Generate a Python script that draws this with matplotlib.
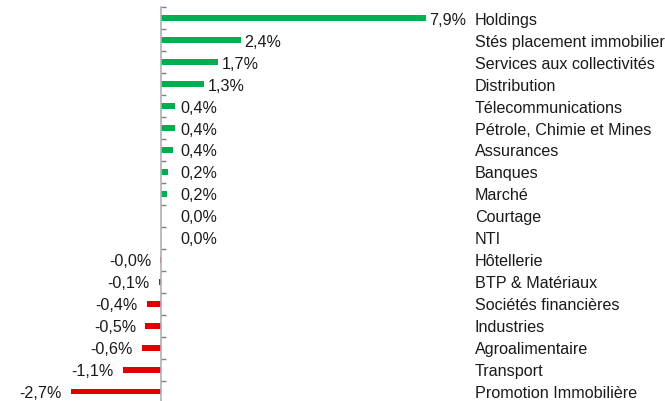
import matplotlib
matplotlib.use('Agg')
import matplotlib.pyplot as plt
import matplotlib.transforms as mtransforms

# sectors, top to bottom
sectors = ['Holdings', 'Stés placement immobilier', 'Services aux collectivités',
           'Distribution', 'Télecommunications', 'Pétrole, Chimie et Mines',
           'Assurances', 'Banques', 'Marché', 'Courtage', 'NTI', 'Hôtellerie',
           'BTP & Matériaux', 'Sociétés financières', 'Industries',
           'Agroalimentaire', 'Transport', 'Promotion Immobilière']
# performance in %
perf = [7.9, 2.4, 1.72, 1.3, 0.43, 0.43, 0.38, 0.22, 0.18, 0.0, 0.0,
        -0.02, -0.06, -0.42, -0.46, -0.56, -1.13, -2.67]

plt.rcParams['font.family'] = ['Liberation Sans', 'DejaVu Sans']
plt.rcParams['font.size'] = 11.6

fig = plt.figure(figsize=(6.65, 4.01), dpi=100)
ax = fig.add_axes([0, -0.004, 1, 0.986])

pos = list(range(len(sectors)))
colors = ['#00b050' if v >= 0 else '#e00000' for v in perf]
ax.barh(pos, perf, height=0.26, color=colors)

ax.set_xlim(-4.783, 15.01)
ax.set_ylim(len(sectors) - 0.5, -0.5)

# axis line at zero with ticks between categories
for s in ['top', 'right', 'bottom']:
    ax.spines[s].set_visible(False)
ax.spines['left'].set_position(('data', 0))
ax.spines['left'].set_color('#b0b0b0')
ax.spines['left'].set_linewidth(1.2)
ax.set_yticks([p - 0.5 for p in pos] + [len(sectors) - 0.5])
ax.tick_params(axis='y', direction='in', length=3.6, width=1, color='#808080',
               labelleft=False)
ax.set_xticks([])

txt_color = '#1a1a1a'
for p, v in zip(pos, perf):
    lab = f"{v:.1f}".replace('.', ',') + '%'
    if v >= 0:
        ax.annotate(lab, xy=(max(v, 0.5), p), xytext=(3, -2),
                    textcoords='offset pixels', ha='left', va='center',
                    color=txt_color)
    else:
        ax.annotate(lab, xy=(v, p), xytext=(-9, -2),
                    textcoords='offset pixels', ha='right', va='center',
                    color=txt_color)

# sector names on the right
for p, name in zip(pos, sectors):
    ax.annotate(name, xy=(475 / 665, p), xycoords=('axes fraction', 'data'),
                xytext=(0, -2), textcoords='offset pixels',
                ha='left', va='center', color=txt_color)

fig.savefig('out.png', dpi=100)
